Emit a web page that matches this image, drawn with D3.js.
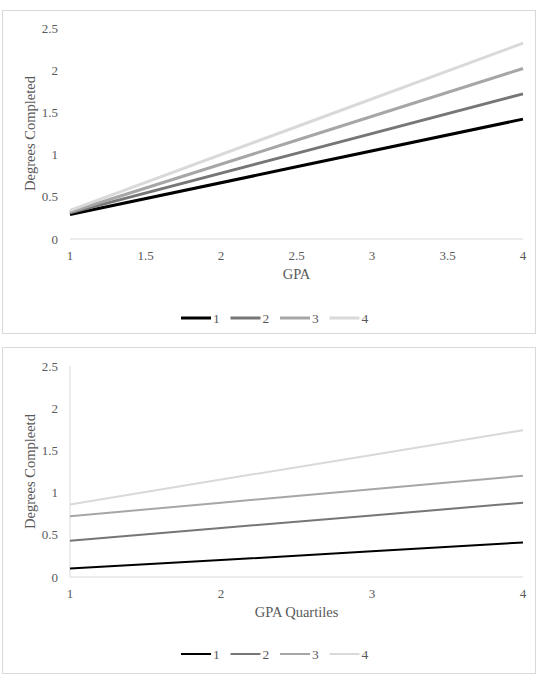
<!DOCTYPE html>
<html lang="en">
<head>
<meta charset="utf-8">
<title>Degrees completed by GPA</title>
<script src="https://d3js.org/d3.v7.min.js"></script>
<style>
  body { margin: 0; background: #fff; }
  text { font-family: "Liberation Serif", "Times New Roman", serif; fill: #595959; }
</style>
</head>
<body>
<script>
// series names and colours (legend order)
var seriesNames = ["1", "2", "3", "4"];
var seriesColors = ["#000000", "#767676", "#a6a6a6", "#d9d9d9"];

// top chart: GPA
var gpaX = [1, 2.5, 4];
var gpaS1 = [0.29, 0.855, 1.42];
var gpaS2 = [0.31, 1.015, 1.72];
var gpaS3 = [0.32, 1.17, 2.02];
var gpaS4 = [0.34, 1.33, 2.32];
var gpaTicks = [1, 1.5, 2, 2.5, 3, 3.5, 4];

// bottom chart: GPA quartiles
var quartX = [1, 2, 3, 4];
var quartS1 = [0.10, 0.20, 0.305, 0.41];
var quartS2 = [0.43, 0.58, 0.73, 0.88];
var quartS3 = [0.72, 0.88, 1.04, 1.20];
var quartS4 = [0.86, 1.155, 1.445, 1.74];
var quartTicks = [1, 2, 3, 4];

var yTicks = [0, 0.5, 1, 1.5, 2, 2.5];

var w = 545, h = 681;

var svg = d3.select("body").append("svg")
    .attr("width", w)
    .attr("height", h);

function drawPanel(opt) {
  var g = svg.append("g");

  // panel border
  g.append("rect")
    .attr("x", 2.5).attr("y", opt.top + 0.5)
    .attr("width", 533).attr("height", opt.boxH)
    .attr("fill", "none").attr("stroke", "#d9d9d9");

  var x = d3.scaleLinear().domain([1, 4]).range([70, 523]);
  var y = d3.scaleLinear().domain([0, 2.5]).range([opt.top + opt.plotBottom, opt.top + opt.plotTop]);

  // baseline
  g.append("line")
    .attr("x1", x(1)).attr("x2", x(4))
    .attr("y1", y(0)).attr("y2", y(0))
    .attr("stroke", "#d9d9d9").attr("stroke-width", 1);

  if (opt.yLine) {
    g.append("line")
      .attr("x1", x(1)).attr("x2", x(1))
      .attr("y1", y(0)).attr("y2", y(2.5))
      .attr("stroke", "#d9d9d9").attr("stroke-width", 1);
  }

  // y tick labels
  g.selectAll(".ylab").data(yTicks).enter().append("text")
    .attr("x", 58)
    .attr("y", function(d) { return y(d) + 4.5; })
    .attr("text-anchor", "end")
    .attr("font-size", 13)
    .text(function(d) { return d; });

  // x tick labels
  g.selectAll(".xlab").data(opt.xTicks).enter().append("text")
    .attr("x", function(d) { return x(d); })
    .attr("y", y(0) + 21)
    .attr("text-anchor", "middle")
    .attr("font-size", 13)
    .text(function(d) { return d; });

  // axis titles
  g.append("text")
    .attr("x", (x(1) + x(4)) / 2)
    .attr("y", y(0) + 40)
    .attr("text-anchor", "middle")
    .attr("font-size", 14.5)
    .text(opt.xTitle);

  g.append("text")
    .attr("transform", "translate(35," + ((y(0) + y(2.5)) / 2) + ") rotate(-90)")
    .attr("text-anchor", "middle")
    .attr("font-size", 14.5)
    .text(opt.yTitle);

  // lines
  var line = d3.line()
    .x(function(d) { return x(d[0]); })
    .y(function(d) { return y(d[1]); });

  opt.series.forEach(function(vals, i) {
    g.append("path")
      .datum(opt.xVals.map(function(v, j) { return [v, vals[j]]; }))
      .attr("d", line)
      .attr("fill", "none")
      .attr("stroke", seriesColors[i])
      .attr("stroke-width", opt.lw);
  });

  // legend
  var ly = opt.top + opt.legendY;
  var leg = g.selectAll(".leg").data(seriesNames).enter().append("g")
    .attr("transform", function(d, i) { return "translate(" + (181 + i * 49.5) + "," + ly + ")"; });
  leg.append("line")
    .attr("x1", 0).attr("x2", 30)
    .attr("y1", 0).attr("y2", 0)
    .attr("stroke", function(d, i) { return seriesColors[i]; })
    .attr("stroke-width", opt.lw);
  leg.append("text")
    .attr("x", 32).attr("y", 5)
    .attr("font-size", 13.5)
    .text(function(d) { return d; });
}

drawPanel({
  top: 10, boxH: 323, plotTop: 18, plotBottom: 229, legendY: 308,
  xTicks: gpaTicks, xVals: gpaX,
  series: [gpaS1, gpaS2, gpaS3, gpaS4],
  xTitle: "GPA", yTitle: "Degrees Completed",
  lw: 3, yLine: false
});

drawPanel({
  top: 347, boxH: 326, plotTop: 19, plotBottom: 230, legendY: 307,
  xTicks: quartTicks, xVals: quartX,
  series: [quartS1, quartS2, quartS3, quartS4],
  xTitle: "GPA Quartiles", yTitle: "Degrees Compleetd",
  lw: 2, yLine: true
});
</script>
</body>
</html>
